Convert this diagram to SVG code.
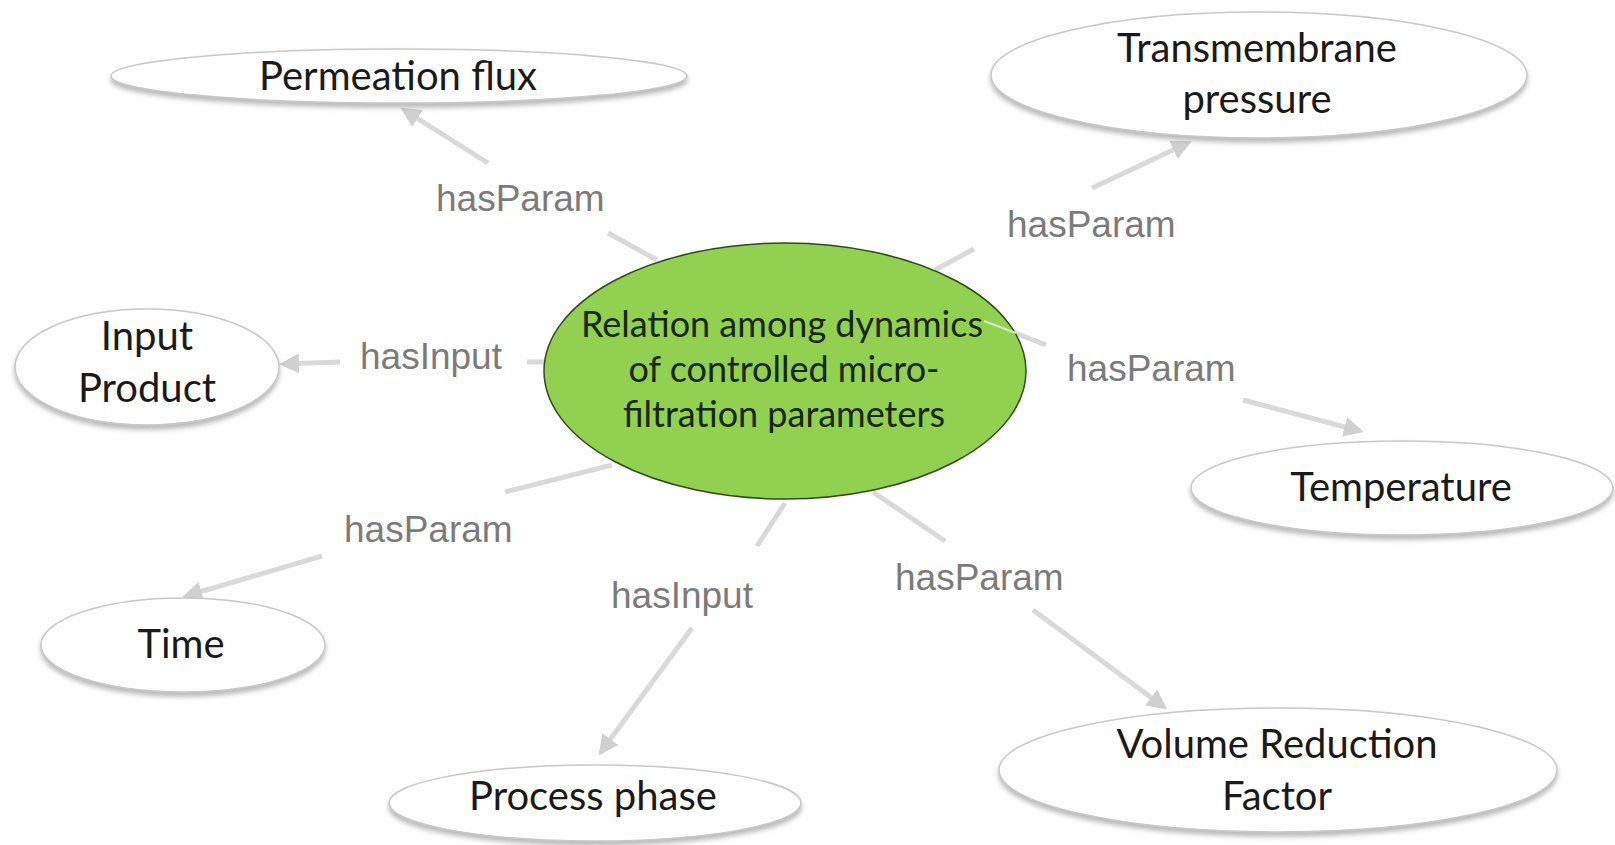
<svg xmlns="http://www.w3.org/2000/svg" width="1615" height="845" viewBox="0 0 1615 845">
<style>
.node{fill:#ffffff;stroke:#c8c8c8;stroke-width:1.5;filter:url(#sh)}
.nt{font-family:Lato,"Open Sans",sans-serif;font-size:40px;fill:#1a1a1a;text-anchor:middle}
.ct{font-family:Lato,"Open Sans",sans-serif;font-size:36px;fill:#17270c;text-anchor:middle}
.lbl{font-family:"Liberation Sans",Arial,sans-serif;font-size:37px;fill:#7b7b7b}
.cn{stroke:#d9d9d9;stroke-width:5;fill:none;stroke-linecap:butt}
.ah{marker-end:url(#arr)}
</style>
<defs>
<filter id="sh" x="-10%" y="-20%" width="120%" height="150%">
<feDropShadow dx="0" dy="4" stdDeviation="2.5" flood-color="#8a8a8a" flood-opacity="0.6"/>
</filter>
<marker id="arr" viewBox="0 0 10 10" refX="8" refY="5" markerWidth="4" markerHeight="4" orient="auto" markerUnits="strokeWidth">
<path d="M0,0 L10,5 L0,10 z" fill="#d0d0d0"/>
</marker>
</defs>
<rect width="1615" height="845" fill="#ffffff"/>
<g id="connectors">
<line class="cn" x1="657" y1="260" x2="608" y2="233"/>
<line class="cn ah" x1="488" y1="163" x2="404" y2="110"/>
<line class="cn" x1="935" y1="270" x2="974" y2="249"/>
<line class="cn ah" x1="1092" y1="188" x2="1188" y2="143"/>
<line class="cn" x1="544" y1="362" x2="527" y2="362"/>
<line class="cn ah" x1="340" y1="362" x2="283" y2="364"/>
<line class="cn" x1="984" y1="321" x2="1046" y2="345"/>
<line class="cn ah" x1="1243" y1="400" x2="1360" y2="431"/>
<line class="cn" x1="612" y1="465" x2="505" y2="492"/>
<line class="cn ah" x1="322" y1="556" x2="186" y2="596"/>
<line class="cn" x1="785" y1="503" x2="757" y2="546"/>
<line class="cn ah" x1="692" y1="628" x2="601" y2="752"/>
<line class="cn" x1="873" y1="492" x2="945" y2="541"/>
<line class="cn ah" x1="1033" y1="610" x2="1164" y2="707"/>
<text class="lbl" x="436" y="211">hasParam</text>
<text class="lbl" x="1007" y="237">hasParam</text>
<text class="lbl" x="360" y="369">hasInput</text>
<text class="lbl" x="1067" y="381">hasParam</text>
<text class="lbl" x="344" y="542">hasParam</text>
<text class="lbl" x="611" y="608">hasInput</text>
<text class="lbl" x="895" y="590">hasParam</text>
</g>
<g id="center">
<ellipse cx="785" cy="371" rx="241" ry="128" fill="#92d050" stroke="#2f4a1a" stroke-width="1.5"/>
<line x1="984" y1="321" x2="1016" y2="333" stroke="#d9eac8" stroke-width="2"/>
<text class="ct" x="782" y="337">Relation among dynamics</text>
<text class="ct" x="784" y="382">of controlled micro-</text>
<text class="ct" x="784" y="427">filtration parameters</text>
</g>
<g id="permeation-flux">
<ellipse class="node" cx="399" cy="76" rx="288" ry="27"/>
<text class="nt" x="398" y="90">Permeation flux</text>
</g>
<g id="transmembrane-pressure">
<ellipse class="node" cx="1259" cy="75" rx="268" ry="63"/>
<text class="nt" x="1257" y="62">Transmembrane</text>
<text class="nt" x="1257" y="113">pressure</text>
</g>
<g id="input-product">
<ellipse class="node" cx="147" cy="367" rx="132" ry="58"/>
<text class="nt" x="147" y="350">Input</text>
<text class="nt" x="147" y="402">Product</text>
</g>
<g id="temperature">
<ellipse class="node" cx="1402" cy="488" rx="211" ry="47"/>
<text class="nt" x="1401" y="501">Temperature</text>
</g>
<g id="time">
<ellipse class="node" cx="183" cy="645" rx="142" ry="47"/>
<text class="nt" x="181" y="658">Time</text>
</g>
<g id="process-phase">
<ellipse class="node" cx="595" cy="803" rx="206" ry="38"/>
<text class="nt" x="593" y="810">Process phase</text>
</g>
<g id="volume-reduction-factor">
<ellipse class="node" cx="1278" cy="770" rx="279" ry="62"/>
<text class="nt" x="1277" y="758">Volume Reduction</text>
<text class="nt" x="1277" y="810">Factor</text>
</g>
</svg>
